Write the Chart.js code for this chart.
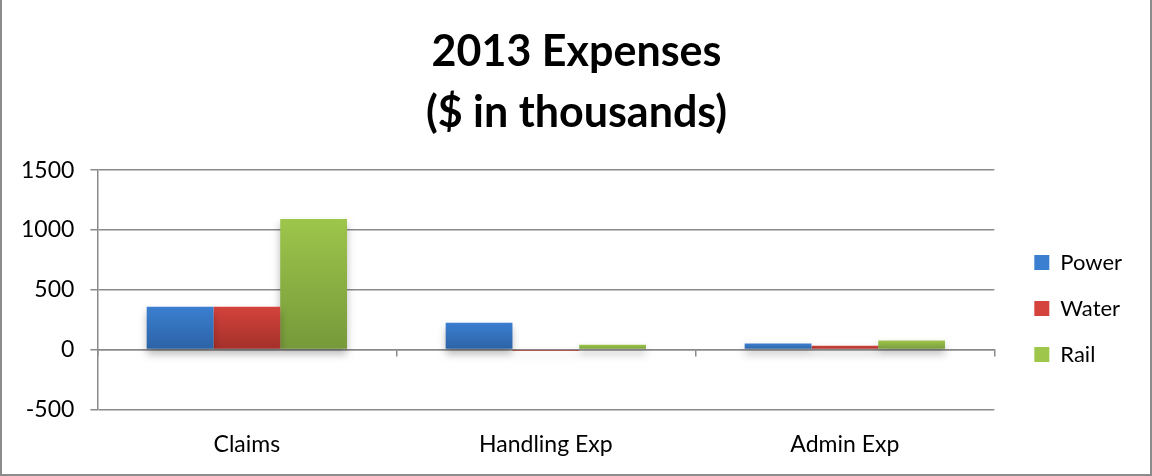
<!DOCTYPE html>
<html>
<head>
<meta charset="utf-8">
<script src="https://cdn.jsdelivr.net/npm/chart.js@4/dist/chart.umd.min.js"></script>
<style>
  html, body { margin: 0; padding: 0; background: #fff; }
  #wrap { position: relative; width: 1152px; height: 476px; }
  #frame { position: absolute; left: 0; top: 0; width: 1152px; height: 476px; box-sizing: border-box;
    border: 2px solid #8c8c8c; border-top: none; pointer-events: none; }
</style>
</head>
<body>
<div id="wrap">
  <canvas id="chart" width="1152" height="476"></canvas>
  <div id="frame"></div>
</div>
<script>
const categories = ["Claims", "Handling Exp", "Admin Exp"];
const powerValues = [358, 225, 50];
const waterValues = [358, -12, 33];
const railValues = [1092, 40, 75];
const yTicks = [-500, 0, 500, 1000, 1500];

// top / bottom colours of each bar gradient
const colorsOptions = {
  Power: ["#3b7fd0", "#2c62a6"],
  Water: ["#d4433c", "#a32f2a"],
  Rail: ["#9dc64b", "#76993a"],
};

function barGradient(name) {
  return (ctx) => {
    const chart = ctx.chart;
    if (!chart.chartArea || ctx.parsed === undefined) return colorsOptions[name][0];
    const y = chart.scales.y;
    const v = ctx.parsed.y;
    let top = y.getPixelForValue(Math.max(v, 0));
    let bottom = y.getPixelForValue(Math.min(v, 0));
    if (bottom - top < 1) bottom = top + 1;
    const g = chart.ctx.createLinearGradient(0, top, 0, bottom);
    g.addColorStop(0, colorsOptions[name][0]);
    g.addColorStop(1, colorsOptions[name][1]);
    return g;
  };
}

// soft shadow under the bars like the office chart
const barShadow = {
  id: "barShadow",
  beforeDatasetsDraw(chart) {
    const c = chart.ctx;
    c.save();
    c.shadowColor = "rgba(0,0,0,0.28)";
    c.shadowBlur = 8;
    c.shadowOffsetY = 5;
  },
  afterDatasetsDraw(chart) {
    chart.ctx.restore();
  },
};

// nudge title to the page centre and legend a bit further right
const nudgeBoxes = {
  id: "nudgeBoxes",
  afterLayout(chart) {
    if (chart.titleBlock) {
      chart.titleBlock.left += 16;
      chart.titleBlock.right += 16;
    }
    if (chart.legend) {
      chart.legend.left += 16;
      chart.legend.right += 16;
    }
  },
};

const datas = {
  labels: categories,
  datasets: [
    { label: "Power", data: powerValues, backgroundColor: barGradient("Power") },
    { label: "Water", data: waterValues, backgroundColor: barGradient("Water") },
    { label: "Rail", data: railValues, backgroundColor: barGradient("Rail") },
  ],
};

const gridGray = "#8a8a8a";
Chart.defaults.color = "#000";

new Chart(document.getElementById("chart"), {
  type: "bar",
  data: datas,
  plugins: [barShadow, nudgeBoxes],
  options: {
    responsive: false,
    animation: false,
    layout: { padding: { left: 5, right: 36, bottom: 5, top: 0 } },
    datasets: {
      bar: { categoryPercentage: 0.67, barPercentage: 1.0, borderWidth: 0 },
    },
    scales: {
      x: {
        grid: { display: false },
        border: { display: false },
        ticks: { color: "#000", font: { family: "Lato", size: 23 }, padding: 13 },
      },
      x2: {
        type: "category",
        labels: categories,
        position: { y: 0 },
        offset: true,
        grid: { offset: true, drawOnChartArea: false, color: gridGray, tickLength: 6, lineWidth: 1.5 },
        border: { display: true, color: gridGray, width: 1.5 },
        ticks: { display: false },
      },
      y: {
        min: -500,
        max: 1500,
        afterBuildTicks: (axis) => { axis.ticks = yTicks.map((v) => ({ value: v })); },
        grid: { color: gridGray, lineWidth: 1.5, tickLength: 7 },
        border: { color: gridGray, width: 1.5 },
        ticks: {
          color: "#000",
          font: { family: "Lato", size: 23 },
          padding: 16,
          callback: (v) => String(v),
        },
      },
    },
    plugins: {
      title: {
        display: true,
        text: ["2013 Expenses", "($ in thousands)"],
        color: "#000",
        font: { family: "Lato", size: 43, weight: "bold", lineHeight: 1.42 },
        padding: { top: 22, bottom: 26 },
      },
      legend: {
        position: "right",
        align: "center",
        title: { display: true, text: "", padding: 67, font: { size: 10 } },
        labels: {
          color: "#000",
          font: { family: "Lato", size: 22 },
          boxWidth: 15,
          boxHeight: 15,
          padding: 24,
          generateLabels: (chart) => chart.data.datasets.map((ds, i) => ({
            text: ds.label,
            fillStyle: colorsOptions[ds.label][0],
            strokeStyle: colorsOptions[ds.label][0],
            fontColor: "#000",
            lineWidth: 0,
            datasetIndex: i,
          })),
        },
      },
      tooltip: { enabled: false },
    },
  },
});
</script>
</body>
</html>
